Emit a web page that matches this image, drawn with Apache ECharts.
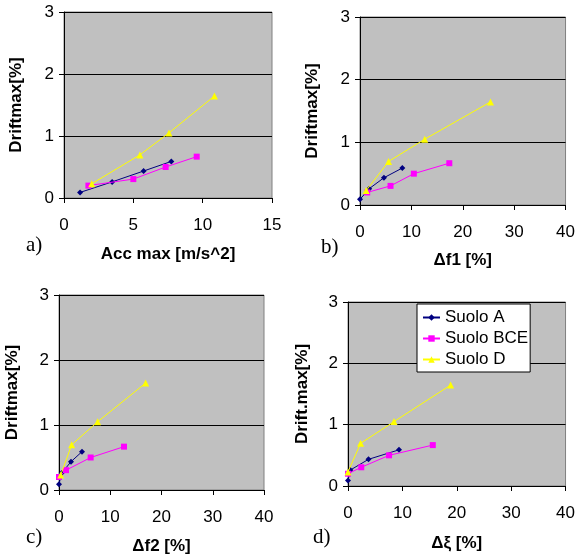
<!DOCTYPE html>
<html>
<head>
<meta charset="utf-8">
<script src="https://cdn.jsdelivr.net/npm/echarts@6/dist/echarts.min.js"></script>
<style>
  html, body { margin: 0; padding: 0; background: #fff; }
  #main { width: 578px; height: 557px; }
</style>
</head>
<body>
<div id="main"></div>
<script>
// drift values (%) per soil type, shared by the four panels
const driftA = [0.09, 0.26, 0.435, 0.59];
const driftBCE = [0.2, 0.305, 0.5, 0.667];
const driftD = [0.23, 0.695, 1.05, 1.645];

// panel a) Acc max [m/s^2]
const accA = [1.16, 3.47, 5.74, 7.74];
const accBCE = [1.76, 5.0, 7.33, 9.57];
const accD = [2.0, 5.47, 7.57, 10.85];

// panel b) delta f1 [%]
const f1A = [0, 1.79, 4.66, 8.24];
const f1BCE = [1.4, 5.94, 10.48, 17.38];
const f1D = [1.21, 5.56, 12.6, 25.4];

// panel c) delta f2 [%]
const f2A = [0, 0.52, 2.34, 4.49];
const f2BCE = [0, 1.37, 6.18, 12.68];
const f2D = [0.33, 2.47, 7.54, 16.9];

// panel d) delta xi [%]
const xiA = [0, 0.43, 3.77, 9.38];
const xiBCE = [0, 2.44, 7.55, 15.59];
const xiD = [0, 2.31, 8.46, 18.87];

const seriesNames = ['Suolo A', 'Suolo BCE', 'Suolo D'];
const xTitles = ['Acc max [m/s^2]', 'Δf1 [%]', 'Δf2 [%]', 'Δξ [%]'];
const yTitles = ['Driftmax[%]', 'Driftmax[%]', 'Driftmax[%]', 'Drift.max[%]'];
const panelLabels = ['a)', 'b)', 'c)', 'd)'];
const xMax = [15, 40, 40, 40];
const xStep = [5, 10, 10, 10];

const panelX = [
  [accA, accBCE, accD],
  [f1A, f1BCE, f1D],
  [f2A, f2BCE, f2D],
  [xiA, xiBCE, xiD]
];
const driftY = [driftA, driftBCE, driftD];

const colors = ['#000080', '#FF00FF', '#FFFF00'];
const symbols = ['diamond', 'rect', 'triangle'];
const symbolSizes = [6, 6, 7];

const grids = [
  { left: 64, top: 12, width: 208, height: 186 },
  { left: 360, top: 17, width: 208, height: 188 },
  { left: 59, top: 295, width: 205, height: 195 },
  { left: 348, top: 302, width: 219, height: 184 }
];
const xNameGap = [48, 47, 48, 49];
const yNameGap = [39, 39, 38, 37];
const labelPos = [[26, 235], [321, 237], [26, 527], [313, 527]];

const chartDom = document.getElementById('main');
const myChart = echarts.init(chartDom);
let option;

const axisFont = { fontFamily: 'Liberation Sans, Arial', fontSize: 17, color: '#000' };
const titleFont = { fontFamily: 'Liberation Sans, Arial', fontSize: 17, fontWeight: 'bold', color: '#000' };

option = {
  animation: false,
  backgroundColor: '#fff',
  grid: grids.map(function (g) {
    return Object.assign({
      show: true,
      backgroundColor: '#C0C0C0',
      borderColor: '#808080',
      borderWidth: 1
    }, g);
  }),
  xAxis: grids.map(function (g, i) {
    return {
      gridIndex: i,
      type: 'value',
      min: 0,
      max: xMax[i],
      interval: xStep[i],
      name: xTitles[i],
      nameLocation: 'middle',
      nameGap: xNameGap[i],
      nameTextStyle: titleFont,
      axisLine: { show: true, onZero: false, lineStyle: { color: '#000', width: 1 } },
      axisTick: { show: true, inside: false, length: 5, lineStyle: { color: '#000' } },
      axisLabel: Object.assign({ margin: 19 }, axisFont),
      splitLine: { show: false }
    };
  }),
  yAxis: grids.map(function (g, i) {
    return {
      gridIndex: i,
      type: 'value',
      min: 0,
      max: 3,
      interval: 1,
      name: yTitles[i],
      nameLocation: 'middle',
      nameGap: yNameGap[i],
      nameTextStyle: titleFont,
      axisLine: { show: true, onZero: false, lineStyle: { color: '#000', width: 1 } },
      axisTick: { show: true, inside: false, length: 5, lineStyle: { color: '#000' } },
      axisLabel: Object.assign({ margin: 10 }, axisFont),
      splitLine: { show: true, lineStyle: { color: '#000', width: 1 } }
    };
  }),
  legend: {
    data: seriesNames,
    orient: 'vertical',
    left: 417,
    top: 304,
    padding: [5, 2, 4, 5],
    itemGap: 4,
    itemWidth: 17,
    itemHeight: 8,
    backgroundColor: '#fff',
    borderColor: '#000',
    borderWidth: 1,
    borderRadius: 0,
    textStyle: { fontFamily: 'Liberation Sans, Arial', fontSize: 17, color: '#000' }
  },
  graphic: panelLabels.map(function (t, i) {
    return {
      type: 'text',
      left: labelPos[i][0],
      top: labelPos[i][1],
      style: { text: t, font: '21px "Liberation Serif", "Times New Roman", serif', fill: '#000' }
    };
  }),
  series: []
};

panelX.forEach(function (xs, p) {
  xs.forEach(function (xv, s) {
    option.series.push({
      name: seriesNames[s],
      type: 'line',
      xAxisIndex: p,
      yAxisIndex: p,
      data: xv.map(function (x, k) { return [x, driftY[s][k]]; }),
      symbol: symbols[s],
      symbolSize: symbolSizes[s],
      showSymbol: true,
      color: colors[s],
      itemStyle: { color: colors[s] },
      lineStyle: { color: colors[s], width: 1 },
      z: 3 + s
    });
  });
});

option && myChart.setOption(option);
</script>
</body>
</html>
